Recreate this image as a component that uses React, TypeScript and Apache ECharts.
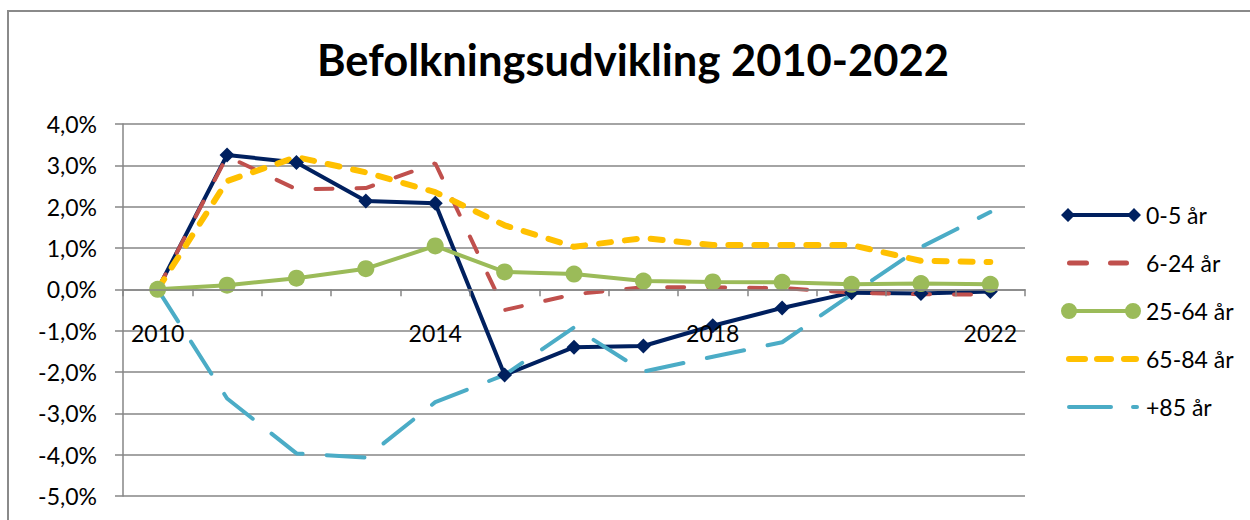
import React, { useEffect, useRef } from "react";
import * as echarts from "echarts";

const categories = ["2010", "2011", "2012", "2013", "2014", "2015", "2016", "2017", "2018", "2019", "2020", "2021", "2022"];
const seriesNames = ["0-5 år", "6-24 år", "25-64 år", "65-84 år", "+85 år"];
const age0to5 = [0, 3.25, 3.07, 2.14, 2.08, -2.07, -1.4, -1.37, -0.88, -0.45, -0.08, -0.1, -0.05];
const age6to24 = [0, 3.22, 2.42, 2.45, 3.05, -0.5, -0.12, 0.05, 0.05, 0.03, -0.08, -0.12, -0.13];
const age25to64 = [0, 0.1, 0.27, 0.5, 1.05, 0.42, 0.37, 0.2, 0.18, 0.17, 0.12, 0.14, 0.12];
const age65to84 = [0, 2.62, 3.2, 2.83, 2.35, 1.55, 1.03, 1.24, 1.07, 1.07, 1.07, 0.69, 0.66];
const age85plus = [0, -2.64, -3.97, -4.07, -2.73, -2.07, -0.92, -1.99, -1.63, -1.28, -0.12, 1.02, 1.87];
const yMin = -5;
const yMax = 4;

const FONT = "Lato, 'Noto Sans', sans-serif";
const GRAY = "#868686";
const GRID_TOP = 124;
const GRID_BOTTOM = 24;
const CHART_H = 520;

const capsule = (x0: number, x1: number, cy: number, r: number) =>
  `M${x0 + r} ${cy - r} L${x1 - r} ${cy - r} A${r} ${r} 0 0 1 ${x1 - r} ${cy + r} L${x0 + r} ${cy + r} A${r} ${r} 0 0 1 ${x0 + r} ${cy - r} Z `;
const frame = "M0 0 L0 0 M80 20 L80 20 ";
const iconDiamondLine =
  "path://" + frame + "M0 10 L7 3 L14 10 L7 17 Z M7 8 L73 8 L73 12 L7 12 Z M66 10 L73 3 L80 10 L73 17 Z";
const circ = (cx: number, cy: number, r: number) =>
  `M${cx - r} ${cy} A${r} ${r} 0 1 1 ${cx + r} ${cy} A${r} ${r} 0 1 1 ${cx - r} ${cy} Z `;
const iconCircleLine = "path://" + frame + circ(8, 10, 8) + "M8 8 L72 8 L72 12 L8 12 Z " + circ(72, 10, 8);
const iconRedDash = "path://" + frame + capsule(6, 28, 10, 2.5) + capsule(47, 68, 10, 2.5);
const iconYellowDash = "path://" + frame + capsule(5, 27, 10, 3) + capsule(33, 53, 10, 3) + capsule(60, 78, 10, 3);
const iconBlueDash = "path://" + frame + capsule(6, 52, 10, 2) + capsule(70, 78, 10, 2);

export default function App() {
  const ref = useRef<HTMLDivElement>(null);
  useEffect(() => {
    if (!ref.current) return;
    const chart = echarts.init(ref.current, undefined, { renderer: "svg" });
    const gridH = CHART_H - GRID_TOP - GRID_BOTTOM;
    const zeroOffset = -(gridH * (0 - yMin)) / (yMax - yMin);
    chart.setOption({
      animation: false,
      backgroundColor: "#ffffff",
      textStyle: { fontFamily: FONT },
      title: {
        text: "Befolkningsudvikling 2010-2022",
        left: 633,
        textAlign: "center",
        top: 37,
        padding: 0,
        textStyle: { fontFamily: FONT, fontWeight: "bold", fontSize: 43.5, color: "#000" },
      },
      graphic: [
        {
          type: "rect",
          shape: { x: 8, y: 11, width: 1300, height: 600 },
          style: { fill: "none", stroke: "#8a8a8a", lineWidth: 2 },
          silent: true,
        },
      ],
      legend: {
        orient: "vertical",
        left: 1056,
        top: 197,
        itemWidth: 80,
        itemHeight: 20,
        itemGap: 22,
        itemStyle: { borderWidth: 0 },
        textStyle: { fontFamily: FONT, fontSize: 23, color: "#000", lineHeight: 26 },
        data: [
          { name: seriesNames[0], icon: iconDiamondLine },
          { name: seriesNames[1], icon: iconRedDash },
          { name: seriesNames[2], icon: iconCircleLine },
          { name: seriesNames[3], icon: iconYellowDash },
          { name: seriesNames[4], icon: iconBlueDash },
        ],
      },
      grid: { left: 123, right: 225, top: GRID_TOP, bottom: GRID_BOTTOM, containLabel: false, outerBoundsMode: "none" },
      xAxis: {
        type: "category",
        data: categories,
        boundaryGap: true,
        position: "bottom",
        offset: zeroOffset,
        axisLine: { onZero: false, lineStyle: { color: GRAY, width: 1.5 } },
        axisTick: { show: true, interval: 0, length: 7, alignWithLabel: false, lineStyle: { color: GRAY, width: 1.5 } },
        axisLabel: { interval: 3, margin: 32, fontFamily: FONT, fontSize: 23, color: "#000" },
        splitLine: { show: false },
        z: 5,
      },
      yAxis: {
        type: "value",
        min: yMin,
        max: yMax,
        interval: 1,
        axisLine: { show: true, lineStyle: { color: GRAY, width: 1.5 } },
        axisTick: { show: true, length: 8, lineStyle: { color: GRAY, width: 1.5 } },
        axisLabel: {
          margin: 26,
          fontFamily: FONT,
          fontSize: 23,
          color: "#000",
          formatter: (v: number) => v.toFixed(1).replace(".", ",") + "%",
        },
        splitLine: { show: true, lineStyle: { color: GRAY, width: 1.5 } },
      },
      series: [
        {
          name: seriesNames[0],
          type: "line",
          data: age0to5,
          symbol: "diamond",
          symbolSize: 15,
          showAllSymbol: true,
          itemStyle: { color: "#00205F" },
          lineStyle: { color: "#00205F", width: 4 },
        },
        {
          name: seriesNames[1],
          type: "line",
          data: age6to24,
          symbol: "none",
          itemStyle: { color: "#C0504D" },
          lineStyle: { color: "#C0504D", width: 4, type: [17, 24], cap: "round" },
        },
        {
          name: seriesNames[2],
          type: "line",
          data: age25to64,
          symbol: "circle",
          symbolSize: 17,
          showAllSymbol: true,
          itemStyle: { color: "#9BBB59" },
          lineStyle: { color: "#9BBB59", width: 4 },
        },
        {
          name: seriesNames[3],
          type: "line",
          data: age65to84,
          symbol: "none",
          itemStyle: { color: "#FFC000" },
          lineStyle: { color: "#FFC000", width: 6, type: [12, 14], cap: "round" },
        },
        {
          name: seriesNames[4],
          type: "line",
          data: age85plus,
          symbol: "none",
          itemStyle: { color: "#4BACC6" },
          lineStyle: { color: "#4BACC6", width: 4, type: [38, 24], cap: "round" },
        },
      ],
    });
    return () => chart.dispose();
  }, []);
  return <div ref={ref} style={{ position: "fixed", left: 0, top: 0, width: 1250, height: 520 }} />;
}
